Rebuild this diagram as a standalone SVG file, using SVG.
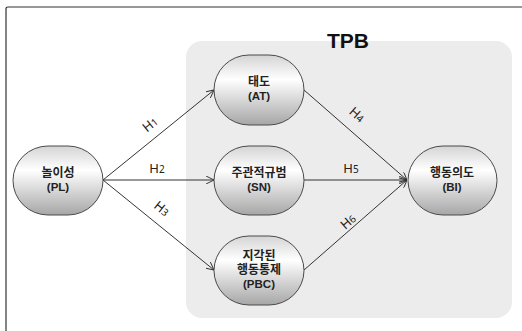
<svg xmlns="http://www.w3.org/2000/svg" width="522" height="331" viewBox="0 0 522 331">
<style>
.node{stroke:#4a4a4a;stroke-width:1;fill:url(#g)}
.nt{font-family:"Noto Sans CJK KR","Noto Sans",sans-serif;font-size:12px;font-weight:bold;fill:#222;text-anchor:middle}
.np{font-family:"Liberation Sans",Arial,sans-serif;font-size:11.5px;font-weight:bold;fill:#222;text-anchor:middle}
.lab{font-family:"Noto Sans","DejaVu Sans",sans-serif;font-size:13px;fill:#222;text-anchor:middle}
.sub{font-size:10px}
.con{stroke:#333;stroke-width:1;fill:none;marker-end:url(#ah)}
</style>
<defs>
<linearGradient id="g" x1="0" y1="0" x2="0" y2="1">
<stop offset="0" stop-color="#d4d4d4"/>
<stop offset="0.35" stop-color="#ffffff"/>
<stop offset="1" stop-color="#a6a6a6"/>
</linearGradient>
<marker id="ah" viewBox="0 0 10 10" refX="10" refY="5" markerWidth="8" markerHeight="8" orient="auto" markerUnits="userSpaceOnUse">
<path d="M0,0 L10,5 L0,10" fill="none" stroke="#333" stroke-width="1.2"/>
</marker>
</defs>
<rect width="522" height="331" fill="#fff"/>
<path d="M6,331 V9 Q6,7 8,7 H522" fill="none" stroke="#333" stroke-width="1.2"/>
<rect x="186" y="41" width="326" height="277" rx="16" fill="#ececec"/>
<text x="348" y="48" font-family="'Liberation Sans',Arial,sans-serif" font-size="21" font-weight="bold" fill="#111" text-anchor="middle">TPB</text>
<g id="connectors">
<line class="con" x1="103" y1="180" x2="214" y2="90"/>
<line class="con" x1="103" y1="180" x2="214" y2="180"/>
<line class="con" x1="103" y1="180" x2="214" y2="270"/>
<line class="con" x1="304" y1="90" x2="407" y2="180"/>
<line class="con" x1="304" y1="180" x2="407" y2="180"/>
<line class="con" x1="304" y1="270" x2="407" y2="180"/>
<text class="lab" transform="translate(153,128) rotate(-39)">H<tspan class="sub">1</tspan></text>
<text class="lab" x="157" y="173">H<tspan class="sub">2</tspan></text>
<text class="lab" transform="translate(159,212) rotate(39)">H<tspan class="sub">3</tspan></text>
<text class="lab" transform="translate(354,118) rotate(41)">H<tspan class="sub">4</tspan></text>
<text class="lab" x="351" y="173">H<tspan class="sub">5</tspan></text>
<text class="lab" transform="translate(351,225) rotate(-41)">H<tspan class="sub">6</tspan></text>
</g>
<g id="PL">
<rect class="node" x="13" y="146" width="90" height="69" rx="35" ry="34.5"/>
<text class="nt" x="58" y="177">놀이성</text>
<text class="np" x="58" y="191">(PL)</text>
</g>
<g id="AT">
<rect class="node" x="214" y="55" width="90" height="70" rx="35" ry="35"/>
<text class="nt" x="259" y="86">태도</text>
<text class="np" x="259" y="100">(AT)</text>
</g>
<g id="SN">
<rect class="node" x="214" y="146" width="90" height="69" rx="35" ry="34.5"/>
<text class="nt" x="259" y="177">주관적규범</text>
<text class="np" x="259" y="191">(SN)</text>
</g>
<g id="PBC">
<rect class="node" x="214" y="236" width="90" height="69" rx="35" ry="34.5"/>
<text class="nt" x="259" y="260">지각된</text>
<text class="nt" x="259" y="274">행동통제</text>
<text class="np" x="259" y="288">(PBC)</text>
</g>
<g id="BI">
<rect class="node" x="408" y="146" width="89" height="69" rx="35" ry="34.5"/>
<text class="nt" x="452" y="177">행동의도</text>
<text class="np" x="452" y="191">(BI)</text>
</g>
</svg>
